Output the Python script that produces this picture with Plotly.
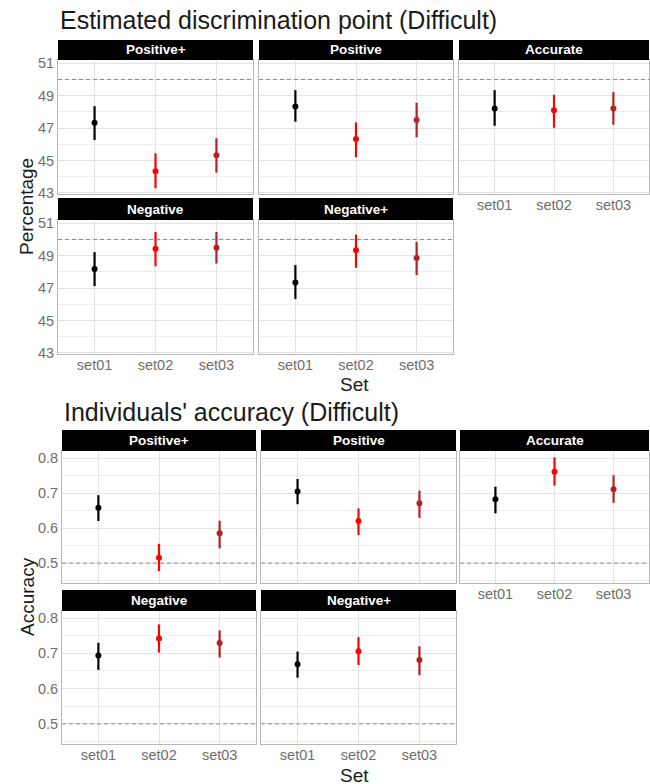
import plotly.graph_objects as go

# ---------------- data ----------------
facets = ["Positive+", "Positive", "Accurate", "Negative", "Negative+"]
sets = ["set01", "set02", "set03"]
set_colors = ["#000000", "#FF0000", "#B22222"]

# Estimated discrimination point (Difficult)  -- one list per facet, values per set
disc_mean = [[47.33, 44.33, 45.32], [48.33, 46.32, 47.49], [48.21, 48.10, 48.21],
             [48.17, 49.43, 49.49], [47.35, 49.34, 48.86]]
disc_low = [[46.26, 43.29, 44.25], [47.39, 45.20, 46.43], [47.14, 47.02, 47.20],
            [47.12, 48.35, 48.51], [46.32, 48.25, 47.80]]
disc_high = [[48.35, 45.44, 46.37], [49.34, 47.35, 48.56], [49.34, 49.05, 49.22],
             [49.22, 50.46, 50.46], [48.42, 50.30, 49.85]]
disc_ref = 50

# Individuals' accuracy (Difficult)
acc_mean = [[0.658, 0.515, 0.585], [0.704, 0.620, 0.671], [0.682, 0.761, 0.711],
            [0.694, 0.742, 0.729], [0.669, 0.706, 0.681]]
acc_low = [[0.620, 0.477, 0.542], [0.668, 0.580, 0.629], [0.642, 0.721, 0.672],
           [0.653, 0.702, 0.688], [0.631, 0.667, 0.638]]
acc_high = [[0.694, 0.555, 0.621], [0.740, 0.656, 0.707], [0.718, 0.802, 0.751],
            [0.730, 0.782, 0.765], [0.705, 0.746, 0.720]]
acc_ref = 0.5

# ---------------- layout helpers ----------------
W, H = 650, 784
FONT = "Liberation Sans, Arial, sans-serif"


def fx(px):
    return px / W


def fy(py):
    return 1 - py / H


charts = [
    dict(title="Estimated discrimination point (Difficult)", title_y=20,
         ytitle="Percentage", ytitle_y=207, xtitle_y=384,
         mean=disc_mean, low=disc_low, high=disc_high, ref=disc_ref,
         yrange=[42.93, 51.2], tick0=43, dtick=2, mtick0=44, mdtick=1, tickformat="d",
         cols=[(58, 253), (259, 453), (459, 649)],
         rows=[(40, 60, 194), (198, 220, 354)]),
    dict(title="Individuals' accuracy (Difficult)", title_y=412,
         ytitle="Accuracy", ytitle_y=597, xtitle_y=775,
         mean=acc_mean, low=acc_low, high=acc_high, ref=acc_ref,
         yrange=[0.443, 0.82], tick0=0.5, dtick=0.1, mtick0=0.45, mdtick=0.05, tickformat=".1f",
         cols=[(62, 256), (261, 456), (460, 649)],
         rows=[(430, 451, 583), (590, 611, 744)]),
]

positions = [(0, 0), (0, 1), (0, 2), (1, 0), (1, 1)]

fig = go.Figure()
layout = dict(width=W, height=H, margin=dict(l=0, r=0, t=0, b=0, pad=0), autosize=False,
              paper_bgcolor="white", plot_bgcolor="white", showlegend=False,
              font=dict(family=FONT))
shapes = []
annotations = []
TICKFONT = dict(family=FONT, size=14.5, color="#6E6E6E")

ax = 0
for ch in charts:
    for fi, (r, c) in enumerate(positions):
        ax += 1
        xn = "x" if ax == 1 else f"x{ax}"
        yn = "y" if ax == 1 else f"y{ax}"
        xk = "xaxis" if ax == 1 else f"xaxis{ax}"
        yk = "yaxis" if ax == 1 else f"yaxis{ax}"
        c0, c1 = ch["cols"][c]
        s_top, p_top, p_bot = ch["rows"][r]
        show_x = (r == 1) or (c == 2)
        layout[xk] = dict(domain=[fx(c0), fx(c1)], anchor=yn, type="category",
                          categoryorder="array", categoryarray=sets, automargin=False,
                          range=[-0.6, 2.6], showgrid=True, gridcolor="#E3E3E3", gridwidth=1,
                          showline=True, mirror=True, linecolor="#B8B8B8", linewidth=1,
                          zeroline=False, ticks="", ticklabelstandoff=-2,
                          showticklabels=show_x, tickfont=TICKFONT)
        layout[yk] = dict(domain=[fy(p_bot), fy(p_top)], anchor=xn, automargin=False,
                          range=ch["yrange"], tick0=ch["tick0"], dtick=ch["dtick"],
                          tickformat=ch["tickformat"],
                          showgrid=True, gridcolor="#E3E3E3", gridwidth=1,
                          minor=dict(tick0=ch["mtick0"], dtick=ch["mdtick"], showgrid=True,
                                     gridcolor="#EDEDED", gridwidth=0.8),
                          showline=True, mirror=True, linecolor="#B8B8B8", linewidth=1,
                          zeroline=False, ticks="", showticklabels=(c == 0),
                          tickfont=TICKFONT)
        # reference dashed line
        shapes.append(dict(type="line", xref=f"{xn} domain", yref=yn, x0=0, x1=1,
                           y0=ch["ref"], y1=ch["ref"],
                           line=dict(color="#8C8C8C", width=1, dash="4px,3px"), layer="above"))
        # strip
        shapes.append(dict(type="rect", xref="paper", yref="paper",
                           x0=fx(c0), x1=fx(c1), y0=fy(p_top), y1=fy(s_top),
                           fillcolor="black", line=dict(width=0), layer="above"))
        annotations.append(dict(text=f"<b>{facets[fi]}</b>", xref="paper", yref="paper",
                                x=(fx(c0) + fx(c1)) / 2, y=(fy(p_top) + fy(s_top)) / 2,
                                xanchor="center", yanchor="middle", showarrow=False,
                                font=dict(family=FONT, size=13.5, color="white")))
        # points with error bars
        for si, s in enumerate(sets):
            m = ch["mean"][fi][si]
            lo = ch["low"][fi][si]
            hi = ch["high"][fi][si]
            fig.add_trace(go.Scatter(
                x=[s], y=[m], xaxis=xn, yaxis=yn, mode="markers",
                marker=dict(color=set_colors[si], size=6),
                error_y=dict(type="data", symmetric=False, array=[hi - m], arrayminus=[m - lo],
                             color=set_colors[si], thickness=2.2, width=0),
                hoverinfo="x+y"))

    # titles
    annotations.append(dict(text=ch["title"], xref="paper", yref="paper",
                            x=fx(ch["cols"][0][0]), y=fy(ch["title_y"]), xanchor="left",
                            yanchor="middle", showarrow=False,
                            font=dict(family=FONT, size=25, color="#1A1A1A")))
    annotations.append(dict(text=ch["ytitle"], xref="paper", yref="paper",
                            x=fx(27), y=fy(ch["ytitle_y"]), xanchor="center", yanchor="middle",
                            textangle=-90, showarrow=False,
                            font=dict(family=FONT, size=19, color="#1A1A1A")))
    annotations.append(dict(text="Set", xref="paper", yref="paper",
                            x=fx(355), y=fy(ch["xtitle_y"]), xanchor="center", yanchor="middle",
                            showarrow=False,
                            font=dict(family=FONT, size=19, color="#1A1A1A")))

layout["shapes"] = shapes
layout["annotations"] = annotations
fig.update_layout(**layout)
fig.write_html("out.html", config={"displayModeBar": False},
               post_script="document.body.style.margin='0';document.body.style.padding='0';")
